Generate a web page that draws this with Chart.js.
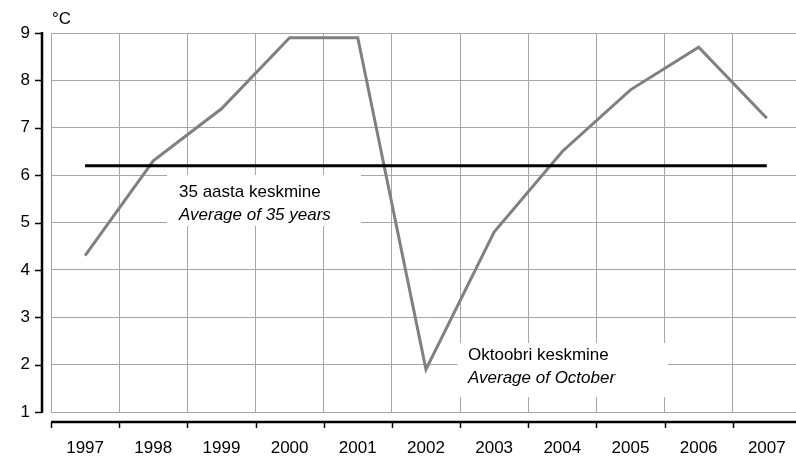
<!DOCTYPE html>
<html>
<head>
<meta charset="utf-8">
<script src="https://cdn.jsdelivr.net/npm/chart.js@4"></script>
<style>
  html, body { margin: 0; padding: 0; background: #fff; overflow: hidden; width: 796px; height: 457px; }
  canvas { display: block; }
</style>
</head>
<body>
<canvas id="chart" width="812" height="457"></canvas>
<script>
const years = ['1997', '1998', '1999', '2000', '2001', '2002', '2003', '2004', '2005', '2006', '2007'];
const octoberTemps = [4.3, 6.3, 7.4, 8.9, 8.9, 1.9, 4.8, 6.5, 7.8, 8.7, 7.2];
const longTermAvg = [6.2, 6.2, 6.2, 6.2, 6.2, 6.2, 6.2, 6.2, 6.2, 6.2, 6.2];
const yTicks = [1, 2, 3, 4, 5, 6, 7, 8, 9];

const FONT = 'Liberation Sans, Arial, sans-serif';
const gridColor = '#a6a6a6';

// axis lines sit a bit away from the plot, like the original
const axesPlugin = {
  id: 'axes',
  beforeDatasetsDraw(chart) {
    const ctx = chart.ctx;
    ctx.save();
    ctx.fillStyle = '#fff';
    ctx.fillRect(167, 175, 194, 51);
    ctx.fillRect(457, 343, 211, 54);
    ctx.fillStyle = '#000';
    ctx.textBaseline = 'alphabetic';
    ctx.font = '17px ' + FONT;
    ctx.fillText('35 aasta keskmine', 179, 197);
    ctx.fillText('Oktoobri keskmine', 468, 360);
    ctx.font = 'italic 17px ' + FONT;
    ctx.fillText('Average of 35 years', 179, 220);
    ctx.fillText('Average of October', 468, 383);
    ctx.restore();
  },
  afterDraw(chart) {
    const ctx = chart.ctx;
    const area = chart.chartArea;
    const x = chart.scales.x;
    const y = chart.scales.y;
    ctx.save();
    ctx.strokeStyle = '#000';
    ctx.lineWidth = 2.5;
    ctx.beginPath();
    ctx.moveTo(42, area.top - 1);
    ctx.lineTo(42, area.bottom + 1);
    ctx.moveTo(area.left, 422);
    ctx.lineTo(chart.width, 422);
    ctx.stroke();
    ctx.lineWidth = 1.5;
    ctx.beginPath();
    yTicks.forEach(v => {
      const py = Math.round(y.getPixelForValue(v)) + 0.5;
      ctx.moveTo(35, py);
      ctx.lineTo(42, py);
    });
    const half = (x.getPixelForValue(1) - x.getPixelForValue(0)) / 2;
    for (let i = 0; i <= years.length; i++) {
      const px = Math.round(x.getPixelForValue(i) - half) + 0.5;
      ctx.moveTo(px, 422);
      ctx.lineTo(px, 428);
    }
    ctx.stroke();
    ctx.fillStyle = '#000';
    ctx.font = '17px ' + FONT;
    ctx.fillText('°C', 52, 24);
    ctx.restore();
  }
};

new Chart(document.getElementById('chart'), {
  type: 'line',
  data: {
    labels: years,
    datasets: [
      {
        label: 'Oktoobri keskmine',
        data: octoberTemps,
        borderColor: '#808080',
        borderWidth: 3,
        pointRadius: 0,
        tension: 0,
        order: 2
      },
      {
        label: '35 aasta keskmine',
        data: longTermAvg,
        borderColor: '#000',
        borderWidth: 3,
        pointRadius: 0,
        tension: 0,
        order: 1
      }
    ]
  },
  options: {
    responsive: false,
    animation: false,
    layout: { padding: { top: 33, right: 6, left: 0, bottom: 0 } },
    plugins: {
      legend: { display: false },
      tooltip: { enabled: false }
    },
    scales: {
      x: {
        offset: true,
        grid: { offset: true, color: gridColor, lineWidth: 1, drawTicks: false },
        border: { display: false },
        ticks: { color: '#000', font: { family: FONT, size: 17 }, padding: 26, maxRotation: 0, autoSkip: false },
        afterFit(s) { s.height = 45; }
      },
      y: {
        min: 1,
        max: 9,
        grid: { color: gridColor, lineWidth: 1, drawTicks: false },
        border: { display: false },
        ticks: { stepSize: 1, color: '#000', font: { family: FONT, size: 17 }, padding: 21 },
        afterFit(s) { s.width = 51; }
      }
    }
  },
  plugins: [axesPlugin]
});
</script>
</body>
</html>
